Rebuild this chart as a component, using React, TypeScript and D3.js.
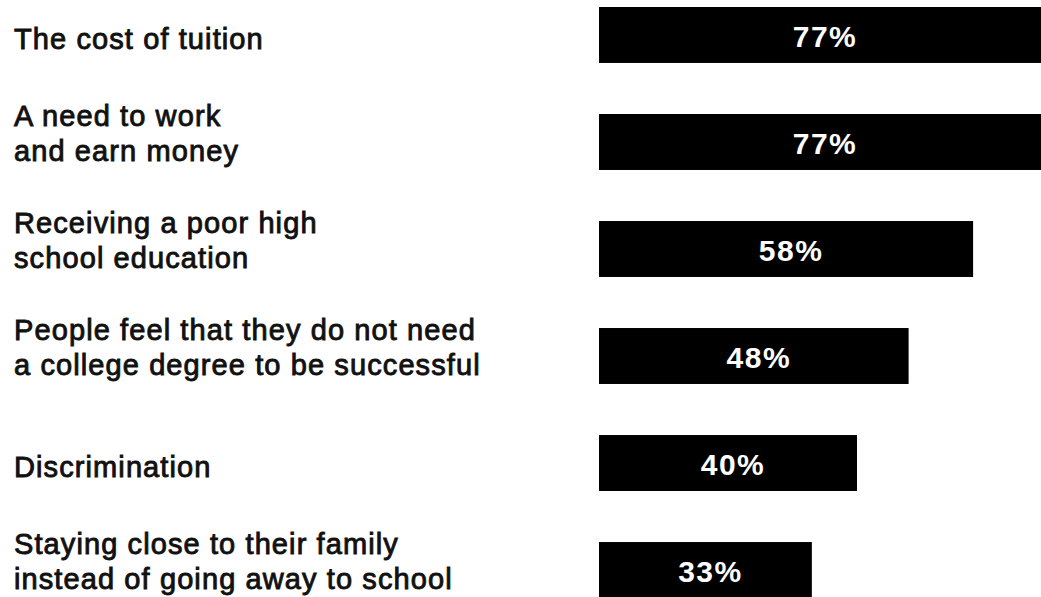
import React from "react";
import * as d3 from "d3";

const categories: string[][] = [
  ["The cost of tuition"],
  ["A need to work", "and earn money"],
  ["Receiving a poor high", "school education"],
  ["People feel that they do not need", "a college degree to be successful"],
  ["Discrimination"],
  ["Staying close to their family", "instead of going away to school"],
];
const values: number[] = [77, 77, 58, 48, 40, 33];
const valueLabels: string[] = ["77%", "77%", "58%", "48%", "40%", "33%"];

const W = 1041;
const H = 597;
const BAR_X0 = 599;

export default function App() {
  const keys = categories.map((_, i) => String(i));
  const y = d3.scaleBand<string>().domain(keys).range([7, 598]).paddingInner(0.477).paddingOuter(0);
  const x = d3.scaleLinear().domain([0, 100]).range([0, 645]);
  const font = "'Liberation Sans', Arial, sans-serif";

  return (
    <svg
      width={W}
      height={H}
      style={{ position: "absolute", left: 0, top: 0, background: "#fff", overflow: "hidden" }}
    >
      <rect x={0} y={0} width={W} height={H} fill="#fff" />
      {categories.map((lines, i) => {
        const top = y(keys[i])!;
        const bw = y.bandwidth();
        const w = x(values[i]);
        const visEnd = Math.min(BAR_X0 + w, W);
        const cx = (BAR_X0 + visEnd) / 2 + 5;
        const first = lines.length === 1 ? top + 42 : top + 12;
        return (
          <g key={i}>
            <rect x={BAR_X0} y={top} width={w} height={bw} fill="#000" />
            <text
              x={cx}
              y={top + bw / 2 + 12}
              textAnchor="middle"
              fill="#fff"
              fontFamily={font}
              fontWeight="bold"
              fontSize={30}
              letterSpacing={1.5}
            >
              {valueLabels[i]}
            </text>
            <text
              x={14}
              y={first}
              fill="#111"
              stroke="#111"
              strokeWidth={0.9}
              fontFamily={font}
              fontSize={29}
              letterSpacing={1.1}
            >
              {lines.map((l, j) => (
                <tspan key={j} x={14} dy={j === 0 ? 0 : 35}>
                  {l}
                </tspan>
              ))}
            </text>
          </g>
        );
      })}
    </svg>
  );
}
